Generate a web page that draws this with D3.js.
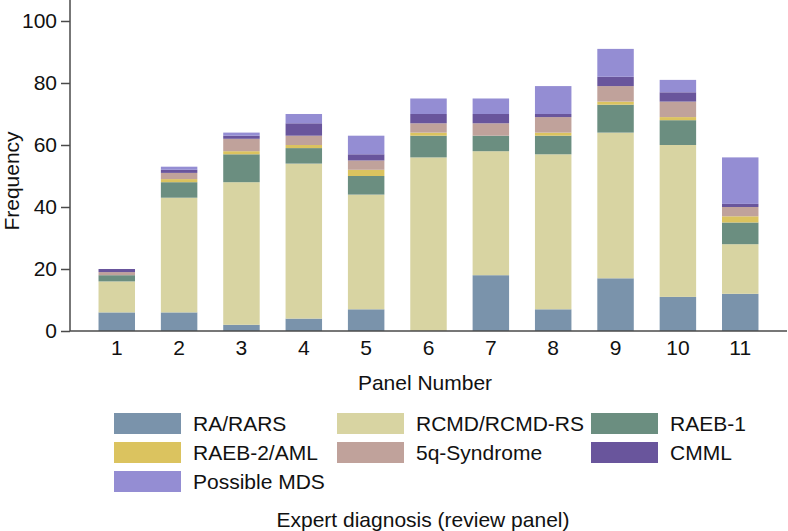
<!DOCTYPE html>
<html><head><meta charset="utf-8">
<script src="https://cdn.jsdelivr.net/npm/d3@7"></script>
<style>body{margin:0;background:#fff}svg{display:block;font-family:"Liberation Sans",Arial,sans-serif}</style>
</head><body><svg id="c" width="788" height="531"></svg>
<script>
const panels = ["1","2","3","4","5","6","7","8","9","10","11"];
const seriesNames = ["RA/RARS","RCMD/RCMD-RS","RAEB-1","RAEB-2/AML","5q-Syndrome","CMML","Possible MDS"];
const raRars      = [6, 6, 2, 4, 7, 0, 18, 7, 17, 11, 12];
const rcmd        = [10, 37, 46, 50, 37, 56, 40, 50, 47, 49, 16];
const raeb1       = [2, 5, 9, 5, 6, 7, 5, 6, 9, 8, 7];
const raeb2Aml    = [0, 1, 1, 1, 2, 1, 0, 1, 1, 1, 2];
const q5Syndrome  = [1, 2, 4, 3, 3, 3, 4, 5, 5, 5, 3];
const cmml        = [1, 1, 1, 4, 2, 3, 3, 1, 3, 3, 1];
const possibleMds = [0, 1, 1, 3, 6, 5, 5, 9, 9, 4, 15];
const yTicks = [0, 20, 40, 60, 80, 100];
const colors = ["#7a93ab","#d8d4a2","#6b8e80","#dbc35f","#c0a29b","#69559c","#948dd3"];

const allSeries = [raRars, rcmd, raeb1, raeb2Aml, q5Syndrome, cmml, possibleMds];
const table = panels.map((p, i) => {
  const o = {panel: p};
  seriesNames.forEach((s, k) => o[s] = allSeries[k][i]);
  return o;
});

const svg = d3.select("#c");
const x0 = 70, x1 = 787, yBase = 331, yTop = 0;
const x = d3.scaleBand().domain(panels).range([x0, x1]).paddingInner(0.415).paddingOuter(0.4575);
const y = d3.scaleLinear().domain([0, 106.77]).range([yBase, yTop]);
const color = d3.scaleOrdinal().domain(seriesNames).range(colors);

const stacked = d3.stack().keys(seriesNames)(table);
svg.append("g").selectAll("g").data(stacked).join("g")
  .attr("fill", d => color(d.key))
  .selectAll("rect").data(d => d).join("rect")
  .attr("x", d => x(d.data.panel))
  .attr("width", x.bandwidth())
  .attr("y", d => y(d[1]))
  .attr("height", d => y(d[0]) - y(d[1]));

const axisColor = "#4a4a4a";
const ya = svg.append("g").attr("transform", `translate(${x0},0)`)
  .call(d3.axisLeft(y).tickValues(yTicks).tickSize(9).tickPadding(4));
ya.select(".domain").attr("d", `M0,${yBase}V${yTop}`);
const xa = svg.append("g").attr("transform", `translate(0,${yBase})`)
  .call(d3.axisBottom(x).tickSize(0).tickPadding(9));
xa.select(".domain").attr("d", `M${x0},0H${x1}`);
[ya, xa].forEach(g => {
  g.select(".domain").attr("stroke", axisColor).attr("stroke-width", 1.5);
  g.selectAll(".tick line").attr("stroke", axisColor).attr("stroke-width", 1.5);
  g.selectAll("text").attr("font-size", 21).attr("fill", "#111").attr("font-family", '"Liberation Sans",Arial,sans-serif');
});

svg.append("text").attr("transform", "translate(19,181) rotate(-90)")
  .attr("text-anchor", "middle").attr("font-size", 21).attr("fill", "#111").text("Frequency");
svg.append("text").attr("x", 425).attr("y", 390)
  .attr("text-anchor", "middle").attr("font-size", 21).attr("fill", "#111").text("Panel Number");

const colX = [114, 337, 591];
const rowY = [413, 442, 471];
const lg = svg.append("g");
seriesNames.forEach((s, i) => {
  const cx = colX[i % 3], cy = rowY[Math.floor(i / 3)];
  lg.append("rect").attr("x", cx).attr("y", cy).attr("width", 67).attr("height", 21).attr("fill", color(s));
  lg.append("text").attr("x", cx + 79).attr("y", cy + 18).attr("font-size", 21).attr("fill", "#111").text(s);
});
svg.append("text").attr("x", 423).attr("y", 527)
  .attr("text-anchor", "middle").attr("font-size", 21).attr("fill", "#111").text("Expert diagnosis (review panel)");
</script></body></html>
